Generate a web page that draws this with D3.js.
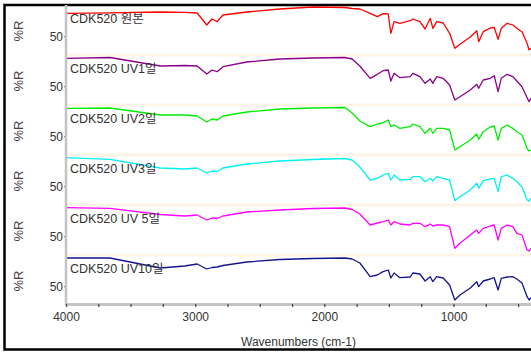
<!DOCTYPE html>
<html>
<head>
<meta charset="utf-8">
<script src="https://cdn.jsdelivr.net/npm/d3@7"></script>
<style>
  body { margin: 0; background: #fff; }
  svg text { font-family: "Liberation Sans", Arial, "Noto Sans CJK KR", sans-serif; }
</style>
</head>
<body>
<div id="chart"></div>
<script>
// spectrum labels, top to bottom
const seriesNames = ['CDK520 원본', 'CDK520 UV1일', 'CDK520 UV2일', 'CDK520 UV3일', 'CDK520 UV 5일', 'CDK520 UV10일'];

// shared sampling grid (cm-1)
const wavenumbers = [4000, 3660, 3270, 3080, 2985, 2910, 2870, 2830, 2785, 2600, 2345, 2090, 1840, 1785, 1725,
  1645, 1590, 1545, 1505, 1485, 1460, 1415, 1335, 1315, 1260, 1220, 1180, 1160, 1130, 1080, 1030, 990, 950,
  870, 820, 805, 770, 715, 685, 655, 630, 585, 540, 510, 470, 430, 415, 400];

// %R
const original = [86.7, 87.5, 88.8, 88.3, 87.2, 68, 77.6, 73.3, 84, 88.8, 93.6, 96.8, 96, 94.4, 93.6,
  86.7, 81.3, 86.1, 85.6, 54.7, 73.3, 70.7, 74.9, 77.6, 73.3, 61.6, 78.7, 62.7, 73.3, 71.2, 54.7, 30.7, 37.1,
  48.8, 58.9, 41.3, 57.3, 63.2, 64.3, 45.1, 62.7, 70.7, 68, 62.7, 57.3, 38.7, 28, 30.7];
const uvDay1 = [94.7, 96, 82.4, 83.2, 82.4, 69.6, 76, 73.3, 81.3, 88.8, 93.6, 95.2, 96, 93.6, 82.4,
  62.7, 69.1, 74.9, 76, 58.4, 70.7, 63.7, 65.3, 70.7, 65.3, 54.7, 61.6, 54.7, 65.3, 62.7, 52, 28, 33.3,
  44, 53.1, 46.7, 60, 62.7, 66.9, 41.3, 62.7, 69.1, 65.3, 58.4, 49.3, 31.7, 25.3, 30.7];
const uvDay2 = [94.7, 95.2, 84, 84, 82.4, 72.8, 77.6, 76, 82.4, 88.8, 93.6, 95.2, 96, 87.2, 74.4,
  65.3, 69.6, 71.7, 76, 65.3, 68, 62.7, 65.3, 69.6, 65.3, 54.7, 62.7, 54.7, 62.7, 62.7, 60, 28, 33.3,
  44, 53.6, 45.1, 57.3, 64.8, 66.4, 44, 62.7, 68, 62.7, 57.3, 52, 30.7, 26.4, 28];
const uvDay3 = [95.7, 93.1, 79.2, 77.6, 79.2, 71.2, 74.4, 73.6, 79.2, 85.6, 90.4, 92.8, 94.4, 92, 80.8,
  60, 62.7, 68, 70.7, 60, 68, 60, 61.1, 65.3, 65.3, 57.3, 62.7, 58.4, 65.3, 62.7, 60, 26.9, 33.3,
  44, 54.7, 46.7, 58.9, 61.6, 62.7, 41.3, 65.3, 68, 62.7, 57.3, 49.3, 28, 26.4, 30.7];
const uvDay5 = [95.7, 94.7, 84.8, 82.4, 84, 76, 79.2, 78.4, 82.4, 88.8, 92, 94.4, 95.2, 92.8, 85.6,
  68, 71.2, 73.3, 76, 68, 73.3, 69.6, 68, 70.7, 70.7, 65.3, 69.6, 66.4, 68, 68, 65.3, 30.7, 38.7,
  52, 60, 54.7, 62.7, 66.4, 68, 44, 62.7, 68, 65.3, 54.7, 52, 28, 26.4, 30.7];
const uvDay10 = [95.2, 95.2, 79.2, 82.4, 85.6, 77.6, 80, 80.8, 83.2, 88.8, 92.8, 94.4, 95.2, 93.6, 87.2,
  65.3, 68, 73.3, 76, 63.2, 71.2, 63.7, 64.8, 71.2, 69.6, 58.4, 65.3, 57.3, 65.3, 63.2, 52, 28, 36,
  47.2, 57.3, 49.3, 58.4, 61.6, 63.7, 44, 62.7, 64.8, 65.3, 61.6, 55.2, 33.3, 28, 31.7];

const xTicks = d3.range(4000, 400, -250);
const xLabelTicks = [4000, 3000, 2000, 1000];

const lineColors = ['#ff0000', '#8b008b', '#00ee00', '#00f0f0', '#ff00ff', '#14148c'];

const valueSets = [original, uvDay1, uvDay2, uvDay3, uvDay5, uvDay10];
const series = seriesNames.map((name, i) => ({
  name,
  color: lineColors[i],
  points: wavenumbers.map((w, j) => ({ w, v: valueSets[i][j] }))
}));

const width = 531, height = 353;
const plotLeft = 66, plotRight = 531;
const plotTop = 5, panelH = 50;
const axisY = plotTop + panelH * series.length - 1;

const svg = d3.select('#chart').append('svg')
  .attr('width', width).attr('height', height);

// outer frame
svg.append('rect')
  .attr('x', 4.5).attr('y', 5).attr('width', 540).attr('height', 344.5)
  .attr('fill', '#fff').attr('stroke', '#000').attr('stroke-width', 2.5);

const x = d3.scaleLinear().domain([4000, 400]).range([plotLeft, plotRight]);

const line = d3.line()
  .x(d => x(d.w))
  .y(d => d.y);

series.forEach((s, i) => {
  const top = plotTop + i * panelH;
  const y = d3.scaleLinear().domain([20, 100]).range([top + panelH, top]);
  const g = svg.append('g').attr('class', 'panel');

  // cream separator at panel top
  if (i > 0) {
    g.append('rect')
      .attr('x', plotLeft).attr('y', top - 1.5)
      .attr('width', plotRight - plotLeft).attr('height', 3)
      .attr('fill', '#fdf4e6');
  }

  // y axis: single 50 tick
  const ya = g.append('g')
    .attr('transform', `translate(${plotLeft},0)`)
    .call(d3.axisLeft(y).tickValues([50]).tickSize(2).tickPadding(1));
  ya.select('.domain').remove();
  ya.selectAll('text').attr('font-size', 12).attr('fill', '#333')
    .style('font-family', '"Liberation Sans", Arial, sans-serif');
  ya.selectAll('line').attr('stroke', '#555');

  g.append('text')
    .attr('transform', `translate(23,${top + panelH / 2 + 1}) rotate(-90)`)
    .attr('text-anchor', 'middle')
    .attr('font-size', 13)
    .attr('fill', '#4a3a4a')
    .text('%R');

  g.append('path')
    .datum(s.points.map(p => ({ w: p.w, y: y(p.v) })))
    .attr('fill', 'none')
    .attr('stroke', s.color)
    .attr('stroke-width', 1.3)
    .attr('stroke-linejoin', 'round')
    .attr('d', line);

  g.append('text')
    .attr('x', 70).attr('y', top + 17.5)
    .attr('font-size', 12.5)
    .attr('fill', '#333')
    .text(s.name);
});

// left axis line
svg.append('line')
  .attr('x1', plotLeft).attr('x2', plotLeft)
  .attr('y1', plotTop).attr('y2', axisY + 1)
  .attr('stroke', '#c4c4c4').attr('stroke-width', 2.5);

// bottom axis
const xa = svg.append('g')
  .attr('transform', `translate(0,${axisY})`)
  .call(d3.axisBottom(x).tickValues(xTicks).tickSize(3).tickSizeOuter(0).tickPadding(5)
    .tickFormat(d => xLabelTicks.includes(d) ? d : ''));
xa.select('.domain').attr('stroke', '#c4c4c4').attr('stroke-width', 3);
xa.selectAll('line').attr('stroke', '#444').attr('stroke-width', 1.2);
xa.selectAll('text').attr('font-size', 12).attr('fill', '#333')
  .style('font-family', '"Liberation Sans", Arial, sans-serif');

svg.append('text')
  .attr('x', (plotLeft + plotRight) / 2).attr('y', 346)
  .attr('text-anchor', 'middle')
  .attr('font-size', 12)
  .attr('fill', '#333')
  .text('Wavenumbers (cm-1)');
</script>
</body>
</html>
